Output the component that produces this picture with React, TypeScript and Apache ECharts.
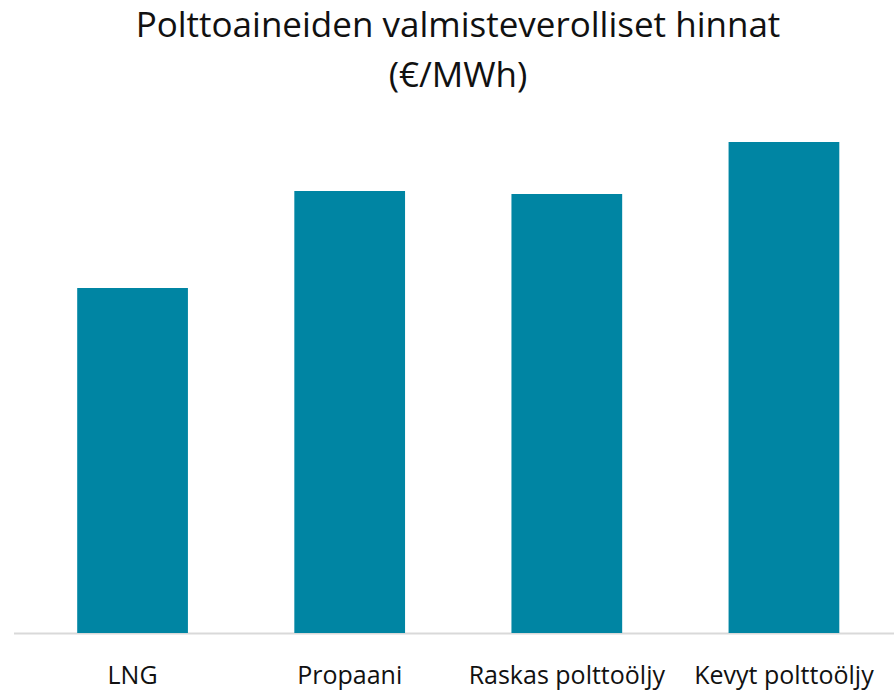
import React, { useEffect, useRef } from "react";
import * as echarts from "echarts";

const categories = ["LNG", "Propaani", "Raskas polttoöljy", "Kevyt polttoöljy"];
const prices = [34.5, 44.2, 43.9, 49.1];
const titleLines = ["Polttoaineiden valmisteverolliset hinnat", "(€/MWh)"];

export default function App() {
  const ref = useRef<HTMLDivElement>(null);
  useEffect(() => {
    if (!ref.current) return;
    const chart = echarts.init(ref.current, null, { renderer: "svg" });
    const titleStyle = {
      fontFamily: "Open Sans",
      fontSize: 35,
      fill: "#111111",
      align: "center",
      verticalAlign: "middle",
    };
    chart.setOption({
      animation: false,
      backgroundColor: "#ffffff",
      grid: { left: 24, right: 1.5, top: 133, bottom: 59, containLabel: false },
      xAxis: {
        type: "category",
        data: categories,
        axisLine: { show: false },
        axisTick: { show: false },
        axisLabel: {
          margin: 28,
          fontFamily: "Open Sans",
          fontSize: 25,
          lineHeight: 25,
          color: "#111111",
          interval: 0,
        },
      },
      yAxis: {
        type: "value",
        min: 0,
        max: 50,
        show: false,
        splitLine: { show: false },
      },
      graphic: [
        {
          type: "text",
          x: 458,
          y: 23,
          style: { ...titleStyle, text: titleLines[0] },
        },
        {
          type: "text",
          x: 458,
          y: 73,
          style: { ...titleStyle, text: titleLines[1] },
        },
        {
          type: "line",
          shape: { x1: 14, y1: 633.5, x2: 894, y2: 633.5 },
          style: { stroke: "#d9d9d9", lineWidth: 2 },
          z: 0,
        },
      ],
      series: [
        {
          type: "bar",
          data: prices,
          barWidth: "51%",
          itemStyle: { color: "#0085a3" },
          z: 2,
        },
      ],
    });
    return () => chart.dispose();
  }, []);
  return <div ref={ref} style={{ width: 894, height: 692, position: "absolute", left: 0, top: 0 }} />;
}
